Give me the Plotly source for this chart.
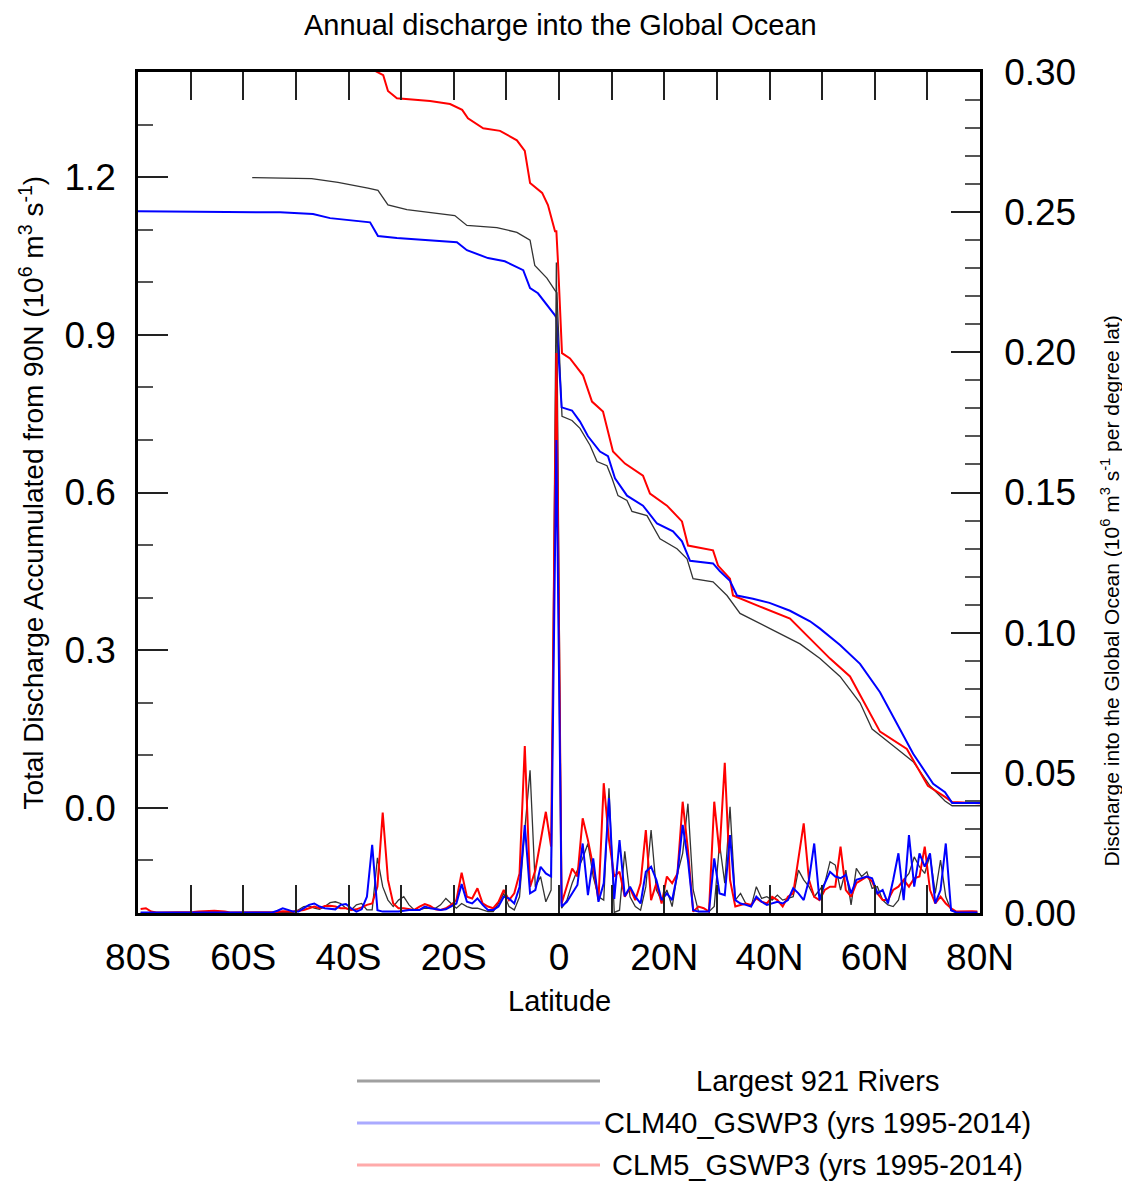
import plotly.graph_objects as go

FONT = "Liberation Sans, Arial, Helvetica, sans-serif"

# ---------------- per-degree discharge (right axis), 1-degree bin centres ----------------
lat_bins = [-79.5 + i for i in range(160)]

obs_deg = [
    0, 0, 0, 0, 0, 0, 0, 0, 0, 0,
    0, 0, 0, 0, 0, 0, 0, 0, 0, 0,
    0, 0.0002, 0.0002, 0.0002, 0.0002, 0.0002, 0.0002, 0.0002, 0.0002, 0.0002,
    0.0011, 0.0023, 0.0025, 0.0017, 0.0013, 0.0023, 0.0037, 0.0040, 0.0034, 0.0017,
    0.0011, 0.0029, 0.0034, 0.0011, 0.0011, 0.0197, 0.0094, 0.0046, 0.0023, 0.0046,
    0.0058, 0.0029, 0.0011, 0.0011, 0.0017, 0.0017, 0.0017, 0.0029, 0.0052, 0.0034,
    0.0017, 0.0034, 0.0023, 0.0017, 0.0017, 0.0011, 0.0005, 0.0005, 0.0034, 0.0070,
    0.0023, 0.0011, 0.0058, 0.0296, 0.0509, 0.0093, 0.0130, 0.0040, 0.0082, 0.2320,
    0.0017, 0.0046, 0.0106, 0.0153, 0.0195, 0.0248, 0.0130, 0.0058, 0.0046, 0.0445,
    0.0002, 0.0010, 0.0220, 0.0058, 0.0023, 0.0010, 0.0094, 0.0296, 0.0082, 0.0046,
    0.0082, 0.0023, 0.0140, 0.0213, 0.0390, 0.0082, 0.0005, 0.0005, 0.0005, 0.0023,
    0.0248, 0.0106, 0.0379, 0.0046, 0.0070, 0.0034, 0.0023, 0.0094, 0.0052, 0.0058,
    0.0046, 0.0064, 0.0046, 0.0052, 0.0058, 0.0153, 0.0118, 0.0094, 0.0058, 0.0082,
    0.0106, 0.0183, 0.0171, 0.0082, 0.0153, 0.0029, 0.0159, 0.0130, 0.0147, 0.0088,
    0.0094, 0.0046, 0.0029, 0.0023, 0.0046, 0.0118, 0.0141, 0.0200, 0.0165, 0.0141,
    0.0207, 0.0070, 0.0189, 0.0058, 0.0010, 0.0002, 0.0002, 0.0002, 0.0002, 0.0002,
]

clm40_deg = [
    0.0002, 0.0002, 0.0002, 0.0002, 0.0002, 0.0002, 0.0002, 0.0002, 0.0002, 0.0002,
    0.0002, 0.0002, 0.0002, 0.0002, 0.0002, 0.0002, 0.0002, 0.0002, 0.0002, 0.0002,
    0.0002, 0.0002, 0.0002, 0.0002, 0.0002, 0.0002, 0.0008, 0.0017, 0.0011, 0.0005,
    0.0005, 0.0017, 0.0029, 0.0034, 0.0023, 0.0017, 0.0014, 0.0013, 0.0029, 0.0032,
    0.0017, 0.0005, 0.0013, 0.0058, 0.0243, 0.0010, 0.0005, 0.0005, 0.0005, 0.0005,
    0.0008, 0.0011, 0.0011, 0.0011, 0.0023, 0.0017, 0.0014, 0.0011, 0.0013, 0.0023,
    0.0034, 0.0103, 0.0040, 0.0034, 0.0052, 0.0029, 0.0011, 0.0011, 0.0023, 0.0058,
    0.0052, 0.0034, 0.0093, 0.0314, 0.0070, 0.0082, 0.0165, 0.0141, 0.0130, 0.1687,
    0.0023, 0.0040, 0.0070, 0.0100, 0.0248, 0.0064, 0.0195, 0.0040, 0.0106, 0.0410,
    0.0050, 0.0260, 0.0060, 0.0094, 0.0058, 0.0034, 0.0147, 0.0165, 0.0118, 0.0046,
    0.0070, 0.0046, 0.0140, 0.0314, 0.0189, 0.0010, 0.0005, 0.0005, 0.0005, 0.0195,
    0.0070, 0.0064, 0.0278, 0.0046, 0.0034, 0.0029, 0.0023, 0.0058, 0.0040, 0.0029,
    0.0034, 0.0040, 0.0034, 0.0046, 0.0088, 0.0070, 0.0046, 0.0118, 0.0248, 0.0046,
    0.0106, 0.0147, 0.0130, 0.0124, 0.0136, 0.0070, 0.0118, 0.0124, 0.0130, 0.0124,
    0.0070, 0.0082, 0.0034, 0.0118, 0.0213, 0.0046, 0.0278, 0.0094, 0.0213, 0.0165,
    0.0213, 0.0034, 0.0082, 0.0248, 0.0010, 0.0002, 0.0002, 0.0002, 0.0002, 0.0002,
]

clm5_deg = [
    0.0014, 0.0017, 0.0005, 0.0002, 0.0002, 0.0002, 0.0002, 0.0002, 0.0002, 0.0003,
    0.0004, 0.0005, 0.0007, 0.0007, 0.0008, 0.0007, 0.0005, 0.0002, 0.0002, 0.0002,
    0.0002, 0.0002, 0.0002, 0.0002, 0.0002, 0.0003, 0.0004, 0.0006, 0.0005, 0.0005,
    0.0008, 0.0011, 0.0017, 0.0023, 0.0017, 0.0025, 0.0026, 0.0023, 0.0017, 0.0017,
    0.0011, 0.0013, 0.0020, 0.0029, 0.0034, 0.0094, 0.0358, 0.0118, 0.0034, 0.0017,
    0.0017, 0.0014, 0.0011, 0.0023, 0.0032, 0.0025, 0.0013, 0.0011, 0.0017, 0.0029,
    0.0046, 0.0144, 0.0058, 0.0052, 0.0088, 0.0034, 0.0023, 0.0017, 0.0040, 0.0082,
    0.0046, 0.0070, 0.0141, 0.0596, 0.0093, 0.0152, 0.0260, 0.0361, 0.0237, 0.1998,
    0.0034, 0.0094, 0.0159, 0.0130, 0.0338, 0.0260, 0.0165, 0.0046, 0.0463, 0.0260,
    0.0130, 0.0147, 0.0058, 0.0088, 0.0046, 0.0106, 0.0296, 0.0046, 0.0106, 0.0034,
    0.0130, 0.0106, 0.0140, 0.0397, 0.0225, 0.0005, 0.0023, 0.0017, 0.0005, 0.0397,
    0.0213, 0.0536, 0.0118, 0.0023, 0.0029, 0.0034, 0.0029, 0.0052, 0.0040, 0.0034,
    0.0058, 0.0046, 0.0023, 0.0058, 0.0070, 0.0200, 0.0320, 0.0118, 0.0058, 0.0046,
    0.0082, 0.0094, 0.0094, 0.0237, 0.0082, 0.0058, 0.0106, 0.0118, 0.0130, 0.0112,
    0.0070, 0.0046, 0.0046, 0.0082, 0.0094, 0.0118, 0.0094, 0.0124, 0.0130, 0.0237,
    0.0082, 0.0034, 0.0058, 0.0034, 0.0017, 0.0005, 0.0006, 0.0006, 0.0006, 0.0005,
]

# ---------------- accumulated discharge from 90N (left axis) ----------------
obs_acc_lat = [-58.3, -47.0, -42.0, -39.7, -36.3, -34.4, -32.5, -28.9, -22.6, -19.8,
               -17.5, -11.8, -8.0, -5.5, -4.6, -2.3, -0.8, -0.4, 0.57, 2.47,
               3.99, 5.89, 7.22, 9.12, 10.07, 11.21, 12.92, 13.87, 16.72, 17.86,
               19.19, 22.42, 24.33, 25.47, 29.27, 31.92, 34.4, 40.1, 45.8, 49.6,
               53.4, 57.2, 59.5, 63.5, 67.3, 70.5, 73.35, 74.7, 80.0]
obs_acc = [1.199, 1.197, 1.190, 1.185, 1.179, 1.175, 1.147, 1.138, 1.131, 1.127,
           1.108, 1.104, 1.095, 1.080, 1.032, 1.008, 0.985, 0.980, 0.745, 0.737,
           0.722, 0.690, 0.659, 0.651, 0.627, 0.594, 0.585, 0.564, 0.556, 0.535,
           0.512, 0.493, 0.474, 0.436, 0.430, 0.404, 0.370, 0.341, 0.312, 0.284,
           0.250, 0.200, 0.150, 0.118, 0.088, 0.042, 0.013, 0.004, 0.004]

clm40_acc_lat = [-80.0, -53.0, -46.75, -43.5, -35.9, -34.4, -30.8, -24.5, -19.4, -17.5,
                 -13.5, -10.3, -6.8, -5.5, -4.0, -0.76, -0.5, 0.5, 2.47, 3.99,
                 5.51, 7.79, 9.31, 10.64, 12.92, 15.96, 18.62, 21.66, 23.37, 24.90,
                 29.27, 30.59, 32.49, 33.82, 36.86, 40.0, 43.9, 47.7, 49.6, 53.4,
                 57.2, 61.0, 64.8, 67.3, 71.1, 73.35, 74.7, 80.0]
clm40_acc = [1.135, 1.133, 1.130, 1.122, 1.114, 1.088, 1.084, 1.080, 1.076, 1.061,
             1.046, 1.040, 1.023, 0.989, 0.979, 0.937, 0.932, 0.762, 0.756, 0.735,
             0.707, 0.678, 0.669, 0.627, 0.594, 0.575, 0.541, 0.526, 0.507, 0.470,
             0.465, 0.450, 0.432, 0.404, 0.398, 0.390, 0.375, 0.355, 0.341, 0.310,
             0.274, 0.220, 0.150, 0.103, 0.046, 0.030, 0.0095, 0.0095]

clm5_acc_lat = [-80.0, -36.5, -35.3, -33.4, -32.5, -30.8, -24.5, -20.7, -18.4, -17.3,
                -14.4, -11.2, -8.0, -6.5, -5.5, -3.2, -2.1, -0.76, -0.5, -0.2,
                0.57, 2.09, 4.56, 6.27, 8.36, 10.26, 12.54, 15.96, 17.29, 20.52,
                23.37, 24.52, 29.27, 30.22, 32.49, 33.06, 38.2, 43.9, 47.7, 51.5,
                55.3, 61.0, 66.1, 70.1, 73.35, 74.7, 80.0]
clm5_acc = [1.450, 1.430, 1.404, 1.394, 1.364, 1.350, 1.345, 1.339, 1.328, 1.312,
            1.293, 1.288, 1.270, 1.250, 1.189, 1.170, 1.147, 1.097, 1.097, 1.040,
            0.865, 0.855, 0.823, 0.773, 0.754, 0.678, 0.655, 0.632, 0.598, 0.575,
            0.545, 0.499, 0.490, 0.461, 0.436, 0.404, 0.383, 0.360, 0.322, 0.284,
            0.250, 0.145, 0.112, 0.042, 0.021, 0.011, 0.009]

x_tickvals = [-80, -60, -40, -20, 0, 20, 40, 60, 80]
x_ticktext = ["80S", "60S", "40S", "20S", "0", "20N", "40N", "60N", "80N"]
x_minor = [-70, -50, -30, -10, 10, 30, 50, 70]
left_tickvals = [0.0, 0.3, 0.6, 0.9, 1.2]
right_tickvals = [0.00, 0.05, 0.10, 0.15, 0.20, 0.25, 0.30]

series = [
    ("Largest 921 Rivers", obs_acc_lat, obs_acc, obs_deg, "#333333", 1.3, "#a0a0a0"),
    ("CLM5_GSWP3 (yrs 1995-2014)", clm5_acc_lat, clm5_acc, clm5_deg, "#ff0000", 2.0, "#ffaaaa"),
    ("CLM40_GSWP3 (yrs 1995-2014)", clm40_acc_lat, clm40_acc, clm40_deg, "#0000ff", 2.0, "#aaaaff"),
]

fig = go.Figure()
for name, alat, acc, deg, col, w, _ in series:
    fig.add_trace(go.Scatter(x=alat, y=acc, mode="lines", name=name,
                             line=dict(color=col, width=w), yaxis="y", showlegend=False))
    fig.add_trace(go.Scatter(x=lat_bins, y=deg, mode="lines", name=name,
                             line=dict(color=col, width=w), yaxis="y2", showlegend=False))

tickfont = dict(family=FONT, size=37, color="black")

# page body adds an 8px margin, so the figure is 8px smaller and shifted accordingly
fig.update_layout(
    width=1122, height=1177,
    margin=dict(l=130, r=150, t=64, b=272),
    paper_bgcolor="white", plot_bgcolor="white",
    showlegend=False,
    xaxis=dict(range=[-80, 80], tickvals=x_tickvals, ticktext=x_ticktext,
               ticks="inside", ticklen=28, tickwidth=2, tickcolor="#222",
               minor=dict(tickvals=x_minor, ticks="inside",
                          ticklen=28, tickwidth=2, tickcolor="#222"),
               showline=True, linecolor="black", linewidth=2.5, mirror="ticks",
               showgrid=False, zeroline=False, tickfont=tickfont,
               ticklabelstandoff=10),
    yaxis=dict(range=[-0.2, 1.4], tickvals=left_tickvals, tickformat=".1f",
               ticks="inside", ticklen=30, tickwidth=2, tickcolor="#222",
               minor=dict(dtick=0.1, tick0=0, ticks="inside", ticklen=15,
                          tickwidth=2, tickcolor="#555"),
               showline=True, linecolor="black", linewidth=2.5,
               showgrid=False, zeroline=False, tickfont=tickfont,
               ticklabelstandoff=12),
    yaxis2=dict(range=[0, 0.30], tickvals=right_tickvals, tickformat=".2f",
                overlaying="y", side="right", anchor="x",
                ticks="inside", ticklen=29, tickwidth=2, tickcolor="#222",
                minor=dict(dtick=0.01, tick0=0, ticks="inside", ticklen=15,
                           tickwidth=2, tickcolor="#555"),
                showline=True, linecolor="black", linewidth=2.5,
                showgrid=False, zeroline=False, tickfont=tickfont,
                ticklabelstandoff=14),
)

annos = [
    dict(text="Annual discharge into the Global Ocean", x=0.502, y=1.056,
         font=dict(family=FONT, size=29, color="black")),
    dict(text="Latitude", x=0.5, y=-0.105,
         font=dict(family=FONT, size=29, color="black")),
    dict(text="Total Discharge Accumulated from 90N (10<sup>6</sup> m<sup>3</sup> s<sup>-1</sup>)",
         x=-0.127, y=0.50, textangle=-90,
         font=dict(family=FONT, size=28, color="black")),
    dict(text="Discharge into the Global Ocean (10<sup>6</sup> m<sup>3</sup> s<sup>-1</sup> per degree lat)",
         x=1.154, y=0.383, textangle=-90,
         font=dict(family=FONT, size=21, color="black")),
]
for a in annos:
    fig.add_annotation(xref="paper", yref="paper", showarrow=False,
                       xanchor="center", yanchor="middle", **a)

# legend (drawn below the plot)
legend_order = [series[0], series[2], series[1]]
for i, (name, *_rest) in enumerate(legend_order):
    lcol = _rest[-1]
    yy = -0.1998 - 0.04995 * i
    fig.add_shape(type="line", xref="paper", yref="paper", x0=0.2601, x1=0.5487,
                  y0=yy, y1=yy, line=dict(color=lcol, width=3))
    fig.add_annotation(xref="paper", yref="paper", showarrow=False, x=0.8076, y=yy,
                       xanchor="center", yanchor="middle", text=name,
                       font=dict(family=FONT, size=29, color="black"))

fig.write_html("out.html")
